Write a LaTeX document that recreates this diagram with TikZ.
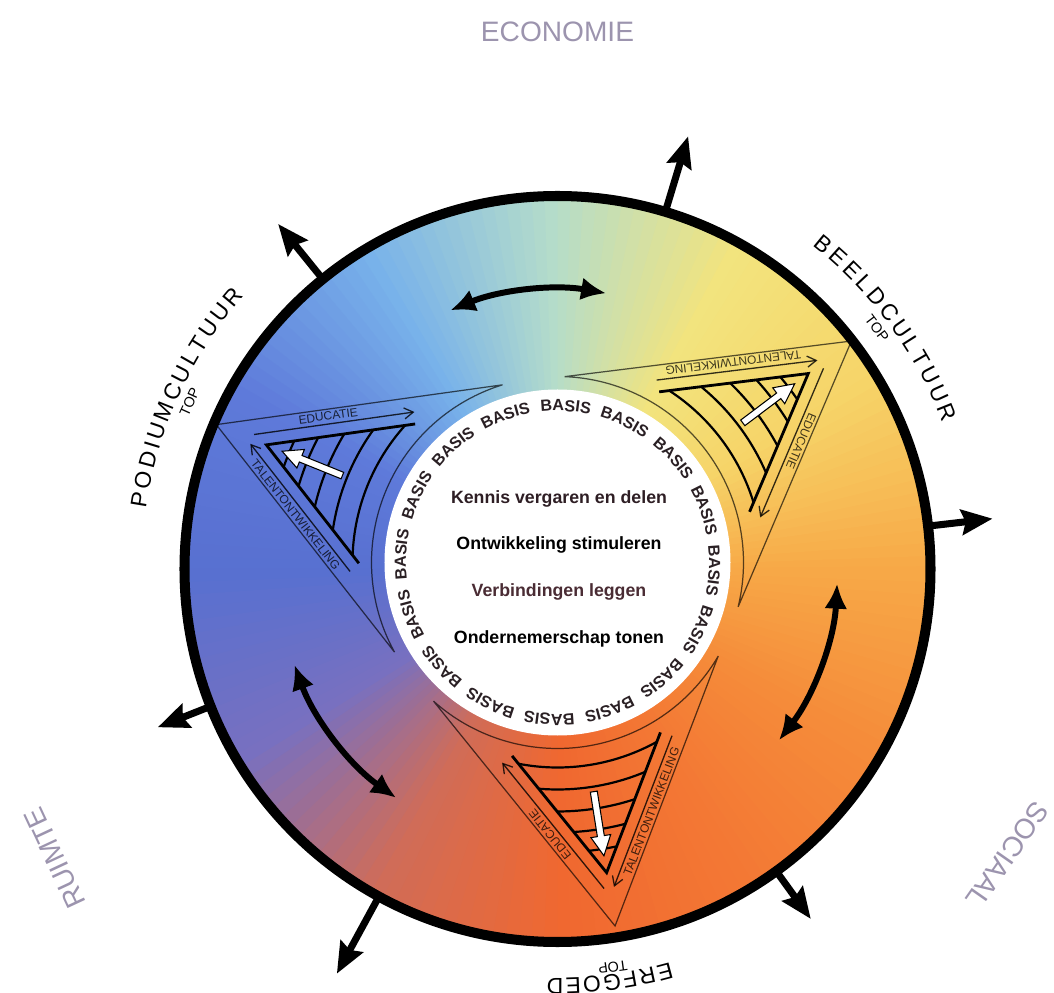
\documentclass[tikz,border=0pt]{standalone}
\usepackage{fontspec}
\setmainfont{Liberation Sans}
\setsansfont{Liberation Sans}
\usetikzlibrary{arrows.meta,decorations.text}
\definecolor{k0}{HTML}{F7AA48}
\definecolor{k30}{HTML}{F6D468}
\definecolor{k60}{HTML}{F2E47E}
\definecolor{k90}{HTML}{B4DCCA}
\definecolor{k120}{HTML}{78B2EA}
\definecolor{k150}{HTML}{5E7ADA}
\definecolor{k180}{HTML}{5870D0}
\definecolor{k210}{HTML}{7870C0}
\definecolor{k240}{HTML}{D06C58}
\definecolor{k270}{HTML}{F06830}
\definecolor{k300}{HTML}{F37834}
\definecolor{k330}{HTML}{F58C3A}
\definecolor{dimtext}{HTML}{9C94AE}
\definecolor{basisc}{HTML}{2A2024}
\definecolor{linec}{HTML}{4A2C34}
\definecolor{lineone}{HTML}{2E1E24}
\newcommand\basisfont{\fontsize{9.2}{10}\selectfont\bfseries\color{basisc}}
\newcommand\lblfont{\fontsize{13}{14}\selectfont}
\begin{document}
\begin{tikzpicture}[x=0.02cm, y=0.02cm,
  thinln/.style={draw=black, draw opacity=0.65, line width=0.7pt},
  arrln/.style={draw=black, draw opacity=0.8, line width=0.75pt, -{Straight Barb[length=0.18cm,width=0.22cm]}},
  thickln/.style={draw=black, line width=1.6pt, line join=miter},
  arcln/.style={draw=black, line width=1.25pt},
  tritext/.style={font=\fontsize{6.8}{7}\selectfont, text=black, text opacity=0.75, inner sep=0pt, transform shape},
  outarr/.style={line width=4pt, -{Stealth[length=0.62cm,width=0.5cm,inset=0.08cm]}},
  dblarr/.style={line width=3.4pt, {Latex[length=0.5cm,width=0.46cm]}-{Latex[length=0.5cm,width=0.46cm]}},
  toplbl/.style={font=\fontsize{8.2}{9}\selectfont, inner sep=0pt},
  dimlbl/.style={font=\fontsize{16}{17}\selectfont, text=dimtext, inner sep=0pt},
  centre/.style={font=\fontsize{10.1}{11}\selectfont\bfseries, inner sep=0pt, anchor=base},
  whitearr/.style={fill=white, draw=black, line width=0.6pt, line join=miter}
]
\useasboundingbox (-557.5,-424) rectangle (496.5,569);

% conic colour field
\foreach \sa/\cA/\cB in {0/k0/k30,30/k30/k60,60/k60/k90,90/k90/k120,120/k120/k150,150/k150/k180,180/k180/k210,210/k210/k240,240/k240/k270,270/k270/k300,300/k300/k330,330/k330/k0}{
  \foreach \kk in {0,...,14}{
    \pgfmathtruncatemacro\pct{100-\kk*100/15}
    \pgfmathsetmacro\angA{\sa+\kk*2}
    \pgfmathsetmacro\angB{\sa+\kk*2+2.4}
    \colorlet{wedgec}{\cA!\pct!\cB}
    \fill[wedgec] (0,0) -- (\angA:374) arc[start angle=\angA, end angle=\angB, radius=374] -- cycle;
  }
}

% outer ring
\draw[line width=5.7pt] (0,0) circle[radius=373];

% white centre
\fill[white] (0,6.5) circle[radius=173];

% three triangles
\foreach \th [count=\i] in {158,37,-81}{
\begin{scope}[shift={(0,6.5)}, rotate=\th]
  \draw[thinln] (368,0) -- (50.8:186) arc[start angle=50.8, end angle=-50.8, radius=186] -- cycle;
  \draw[arrln] (189.0,86.0) -- (329.3,5.0);
  \draw[arrln] (329.3,-5.0) -- (189.0,-86.0);
  \draw[thickln] (183.9,75.1) -- (314,0) -- (183.9,-75.1);
  \foreach \arcr/\arcp in {290/2.77,270/5.55,249/9.08,227/13.76,205/19.98}
    \draw[arcln] (\arcp:\arcr) arc[start angle=\arcp, end angle=-\arcp, radius=\arcr];
  \node[tritext, rotate=150] (tal\i) at (260.6,53.9) {TALENTONTWIKKELING};
  \node[tritext, rotate=-150] (edu\i) at (267.5,-49.9) {EDUCATIE};
  \draw[whitearr] (232,-3.5) -- (277,-3.5) -- (277,-10) -- (297,0) -- (277,10) -- (277,3.5) -- (232,3.5) -- cycle;
\end{scope}
}

% BASIS ring
\begin{scope}[shift={(0,6.5)}]
\foreach \kk in {0,...,15}{
  \pgfmathsetmacro\wa{87-\kk*22.5+11.25}
  \pgfmathsetmacro\wb{87-\kk*22.5-11.25}
  \path[decorate, decoration={text along path, text={|\basisfont|BASIS}, text align=center}]
    (\wa:151.5) arc[start angle=\wa, end angle=\wb, radius=151.5];
}
\end{scope}

% centre texts
\node[centre, text=lineone] (t1) at (1.5,65) {Kennis vergaren en delen};
\node[centre] (t2) at (1.5,19) {Ontwikkeling stimuleren};
\node[centre, text=linec] (t3) at (1.5,-28) {Verbindingen leggen};
\node[centre] (t4) at (1.5,-74) {Ondernemerschap tonen};

% curved labels
\path[decorate, decoration={text along path, text={|\lblfont|PODIUMCULTUUR}, text align={fit to path}}]
  (171.6:416) arc[start angle=171.6, end angle=138.9, radius=416];
\path[decorate, decoration={text along path, text={|\lblfont|BEELDCULTUUR}, text align={fit to path}}]
  (51.7:412) arc[start angle=51.7, end angle=20.8, radius=412];
\path[decorate, decoration={text along path, text={|\lblfont|ERFGOED}, text align={fit to path}}]
  (-74.0:409) arc[start angle=-74.0, end angle=-91.5, radius=409];
\node[toplbl, rotate=65.6] (top1) at (155.6:404) {TOP};
\node[toplbl, rotate=-53] (top2) at (37:400) {TOP};
\node[toplbl, rotate=-172.1] (top3) at (-82.1:402) {TOP};

% domain labels
\node[dimlbl] (eco) at (0,537) {ECONOMIE};
\node[dimlbl, rotate=-125] (soc) at (450,-286) {SOCIAAL};
\node[dimlbl, rotate=115] (rui) at (-502.5,-289) {RUIMTE};

% outward arrows
\foreach \oa/\orr [count=\j] in {73.2/452,129/444,6.6/438,-54.1/432,241.4/461,201.6/430}{
  \coordinate (os\j) at (\oa:376);
  \coordinate (oe\j) at (\oa:\orr);
  \draw[outarr] (os\j) -- (oe\j);
}

% curved double arrows
\coordinate (d1) at (112.5:280);
\coordinate (d2) at (-3:280);
\coordinate (d3) at (200:280);
\draw[dblarr] (d1) arc[start angle=112.5, end angle=80, radius=280];
\draw[dblarr] (d2) arc[start angle=-3, end angle=-37.7, radius=280];
\draw[dblarr] (d3) arc[start angle=200, end angle=234.8, radius=280];
\end{tikzpicture}
\end{document}
